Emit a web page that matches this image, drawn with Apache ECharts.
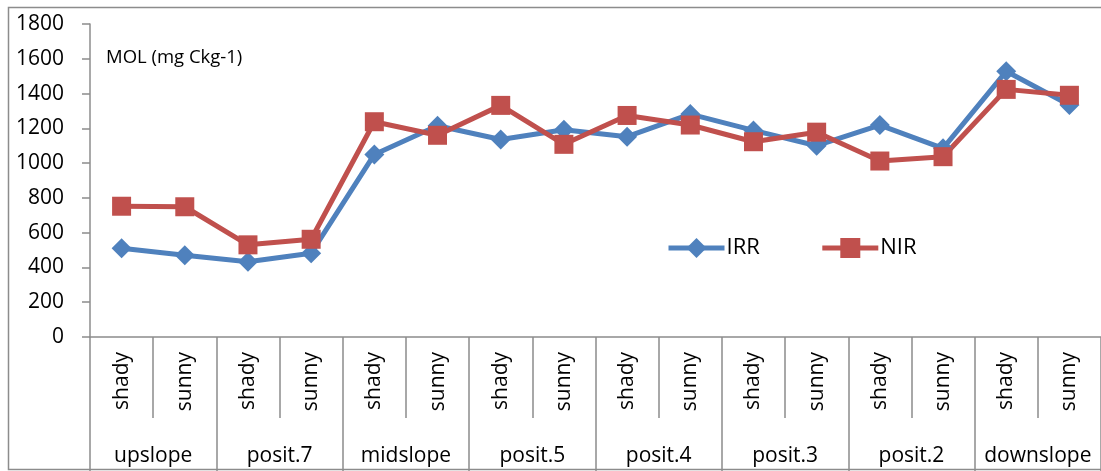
<!DOCTYPE html>
<html>
<head>
<meta charset="utf-8">
<script src="https://cdn.jsdelivr.net/npm/echarts@6/dist/echarts.min.js"></script>
<style>
  html, body { margin: 0; padding: 0; background: #fff; }
  #chart { width: 1101px; height: 471px; }
</style>
</head>
<body>
<div id="chart"></div>
<script>
// Slope positions (outer axis) and aspect (inner axis)
const positions = ['upslope', 'posit.7', 'midslope', 'posit.5', 'posit.4', 'posit.3', 'posit.2', 'downslope'];
const aspects = ['shady', 'sunny'];
const categories = positions.flatMap(p => aspects.map(a => a));

// MOL (mg Ckg-1) per position and aspect
const irr = [510, 470, 433, 482, 1050, 1215, 1136, 1192, 1152, 1282, 1188, 1100, 1219, 1085, 1528, 1334];
const nir = [752, 749, 530, 562, 1238, 1160, 1332, 1108, 1274, 1219, 1123, 1178, 1012, 1037, 1424, 1390];

const yTicks = { min: 0, max: 1800, step: 200 };

const FONT = '"Open Sans", sans-serif';
const AXIS_GRAY = '#8c8c8c';

const chart = echarts.init(document.getElementById('chart'), null, { renderer: 'canvas' });

chart.setOption({
  animation: false,
  backgroundColor: '#fff',
  textStyle: { fontFamily: FONT },
  grid: { left: 90, top: 24, width: 1014, height: 313, containLabel: false },
  graphic: [
    { type: 'rect', shape: { x: 8.5, y: 7.5, width: 1110, height: 462 },
      style: { fill: 'none', stroke: AXIS_GRAY, lineWidth: 1.5 }, silent: true },
    { type: 'text', left: 106, top: 48,
      style: { text: 'MOL (mg Ckg-1)', font: '18.5px ' + FONT, fill: '#000' } }
  ],
  legend: {
    left: 666, top: 237,
    itemWidth: 56, itemHeight: 25, itemGap: 60, padding: 0,
    lineStyle: { width: 5 },
    textStyle: { fontSize: 22, color: '#000', fontFamily: FONT, padding: [0, 0, 0, -3] },
    data: ['IRR', 'NIR']
  },
  xAxis: [
    {
      type: 'category',
      data: categories,
      position: 'bottom',
      boundaryGap: true,
      axisLine: { show: true, lineStyle: { color: AXIS_GRAY, width: 1.5 } },
      axisTick: { show: true, interval: 0, length: 81, lineStyle: { color: AXIS_GRAY, width: 1.5 } },
      axisLabel: { interval: 0, rotate: 90, margin: 15, fontSize: 21, color: '#000', fontFamily: FONT },
      splitLine: { show: false }
    },
    {
      type: 'category',
      data: positions,
      position: 'bottom',
      boundaryGap: true,
      axisLine: { show: false },
      axisTick: { show: true, interval: 0, length: 140, lineStyle: { color: AXIS_GRAY, width: 1.5 } },
      axisLabel: { interval: 0, margin: 109, fontSize: 21, color: '#000', fontFamily: FONT },
      splitLine: { show: false }
    }
  ],
  yAxis: {
    type: 'value',
    min: yTicks.min, max: yTicks.max, interval: yTicks.step,
    axisLine: { show: true, lineStyle: { color: AXIS_GRAY, width: 1.5 } },
    axisTick: { show: true, inside: false, length: 8, lineStyle: { color: AXIS_GRAY, width: 1.5 } },
    axisLabel: { fontSize: 21, color: '#000', margin: 26, fontFamily: FONT, formatter: v => String(v) },
    splitLine: { show: false }
  },
  series: [
    {
      name: 'IRR', type: 'line', data: irr, xAxisIndex: 0,
      symbol: 'diamond', symbolSize: 20,
      lineStyle: { color: '#4F81BD', width: 5 },
      itemStyle: { color: '#4F81BD' }
    },
    {
      name: 'NIR', type: 'line', data: nir, xAxisIndex: 0,
      symbol: 'rect', symbolSize: 19,
      lineStyle: { color: '#C0504D', width: 5 },
      itemStyle: { color: '#C0504D' }
    }
  ]
});
</script>
</body>
</html>
